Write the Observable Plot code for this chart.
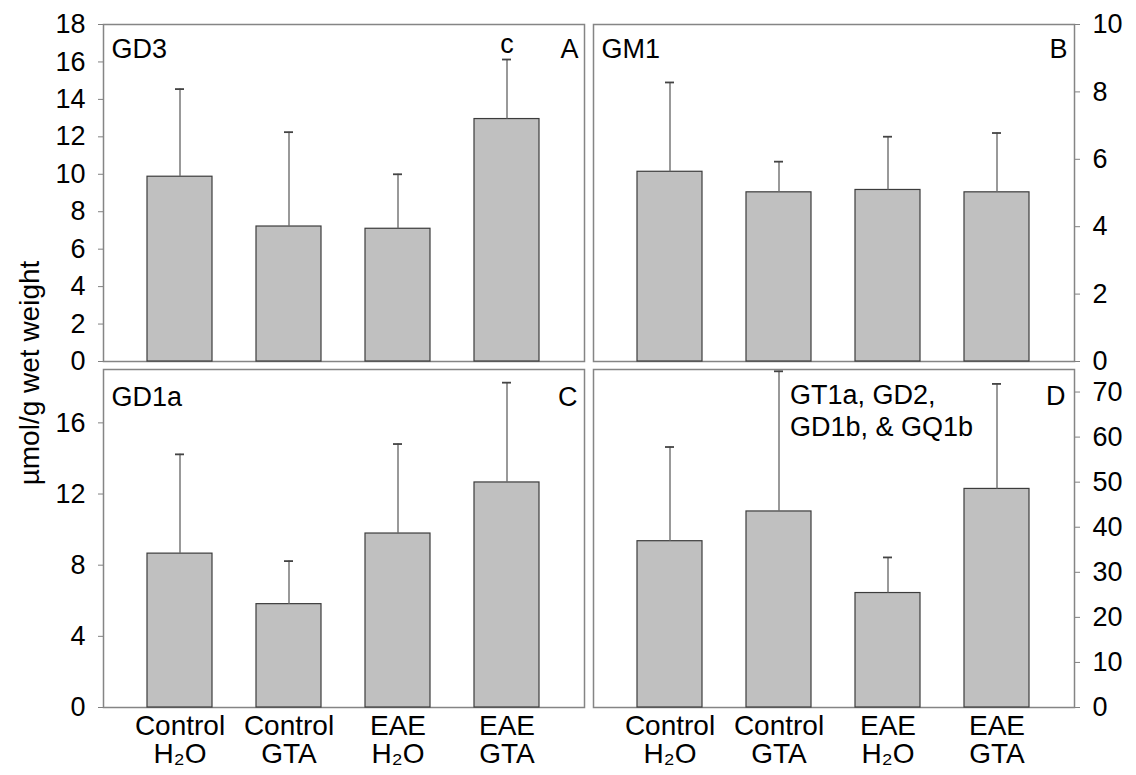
<!DOCTYPE html>
<html><head><meta charset="utf-8">
<script src="https://cdn.jsdelivr.net/npm/d3@7"></script>
<script src="https://cdn.jsdelivr.net/npm/@observablehq/plot@0.6"></script>
<style>
body{margin:0;background:#fff;}
#wrap{position:relative;width:1136px;height:775px;overflow:hidden;font-family:"Liberation Sans",Arial,sans-serif;background:#fff;}
#wrap svg{position:absolute;}
#ytitle{position:absolute;left:30px;top:373px;transform:translate(-50%,-50%) rotate(-90deg);white-space:nowrap;font-size:28px;color:#000;}
</style></head><body><div id="wrap"><div id="ytitle">µmol/g wet weight</div></div>
<script>
const categories = ["Control H₂O", "Control GTA", "EAE H₂O", "EAE GTA"];
const xLabels = ["Control\nH₂O", "Control\nGTA", "EAE\nH₂O", "EAE\nGTA"];

const gd3Mean = [9.87, 7.21, 7.09, 12.95];
const gd3Err  = [14.55, 12.25, 10.0, 16.13];
const gm1Mean = [5.63, 5.02, 5.09, 5.02];
const gm1Err  = [8.28, 5.93, 6.67, 6.78];
const gd1aMean = [8.65, 5.81, 9.78, 12.65];
const gd1aErr  = [14.23, 8.23, 14.81, 18.26];
const gtMean = [36.9, 43.5, 25.4, 48.5];
const gtErr  = [57.8, 74.6, 33.3, 71.8];

const ticksA = [0, 2, 4, 6, 8, 10, 12, 14, 16, 18];
const ticksB = [0, 2, 4, 6, 8, 10];
const ticksC = [0, 4, 8, 12, 16];
const ticksD = [0, 10, 20, 30, 40, 50, 60, 70];

const sigLabels = [{cat: "EAE GTA", err: 16.13, label: "c"}];

const FONT = '"Liberation Sans", Arial, sans-serif';

function panel(cfg) {
  const data = categories.map((c, i) => ({cat: c, mean: cfg.mean[i], err: cfg.err[i]}));
  const marks = [
    Plot.frame({stroke: "#858585", strokeWidth: 1.5}),
    Plot.axisY({anchor: cfg.anchor, ticks: cfg.ticks, tickSize: 5, tickPadding: 13,
      stroke: "#808080", fill: "#000", fontSize: 27, label: null}),
    Plot.barY(data, {x: "cat", y: "mean", fill: "#c0c0c0", stroke: "#3c3c3c", strokeWidth: 1.2}),
    Plot.ruleX(data, {x: "cat", y1: "mean", y2: "err", stroke: "#6e6e6e", strokeWidth: 1.4}),
    Plot.tickY(data, {x: "cat", y: "err", insetLeft: 28, insetRight: 28, stroke: "#444", strokeWidth: 1.8}),
    Plot.text([cfg.name], {text: d => d, frameAnchor: "top-left", dx: 8, dy: cfg.labelDy,
      lineAnchor: "top", textAnchor: "start", fontSize: 27, fill: "#000"}),
    Plot.text([cfg.letter], {text: d => d, frameAnchor: "top-right", dx: cfg.letterDx, dy: cfg.labelDy,
      lineAnchor: "top", textAnchor: "end", fontSize: 27, fill: "#000"})
  ];
  if (cfg.extra) marks.push(...cfg.extra);
  if (cfg.showX) {
    marks.push(Plot.axisX({tickFormat: d => xLabels[categories.indexOf(d)], tickSize: 0,
      tickPadding: 7, fontSize: 28, lineHeight: 1.02, fill: "#000", label: null}));
  }
  const svg = Plot.plot({
    width: cfg.width, height: cfg.height,
    marginLeft: cfg.ml, marginRight: cfg.mr, marginTop: cfg.mt, marginBottom: cfg.mb,
    style: {fontFamily: FONT, fontSize: "27px", color: "#000", background: "transparent", overflow: "visible"},
    x: {domain: categories, padding: 0.4, axis: null, label: null},
    y: {domain: cfg.domain, axis: null, label: null},
    marks
  });
  svg.style.left = cfg.left + "px";
  svg.style.top = cfg.top + "px";
  document.getElementById("wrap").appendChild(svg);
}

panel({name: "GD3", letter: "A", mean: gd3Mean, err: gd3Err, domain: [0, 18], ticks: ticksA, anchor: "left",
  left: 0, top: 0, width: 590, height: 366, ml: 103, mr: 6, mt: 24, mb: 5, labelDy: 14, letterDx: -6,
  extra: [Plot.text(sigLabels, {x: "cat", y: "err", text: "label", dy: -7, lineAnchor: "bottom", fontSize: 27, fill: "#000"})]});

panel({name: "GM1", letter: "B", mean: gm1Mean, err: gm1Err, domain: [0, 10], ticks: ticksB, anchor: "right",
  left: 588, top: 0, width: 548, height: 366, ml: 5, mr: 62, mt: 24, mb: 5, labelDy: 14, letterDx: -7});

panel({name: "GD1a", letter: "C", mean: gd1aMean, err: gd1aErr, domain: [0, 19], ticks: ticksC, anchor: "left",
  left: 0, top: 364, width: 590, height: 411, ml: 103, mr: 6, mt: 5, mb: 68, labelDy: 17, letterDx: -7, showX: true});

panel({name: "", letter: "D", mean: gtMean, err: gtErr, domain: [0, 75], ticks: ticksD, anchor: "right",
  left: 588, top: 364, width: 548, height: 411, ml: 5, mr: 62, mt: 5, mb: 68, labelDy: 16, letterDx: -9, showX: true,
  extra: [Plot.text([{cat: "Control GTA", t: "GT1a, GD2,\nGD1b, & GQ1b"}], {x: "cat", text: "t", frameAnchor: "top",
    textAnchor: "start", lineAnchor: "top", dx: 11, dy: 12, fontSize: 27, lineHeight: 1.19, fill: "#000"})]});
</script></body></html>
